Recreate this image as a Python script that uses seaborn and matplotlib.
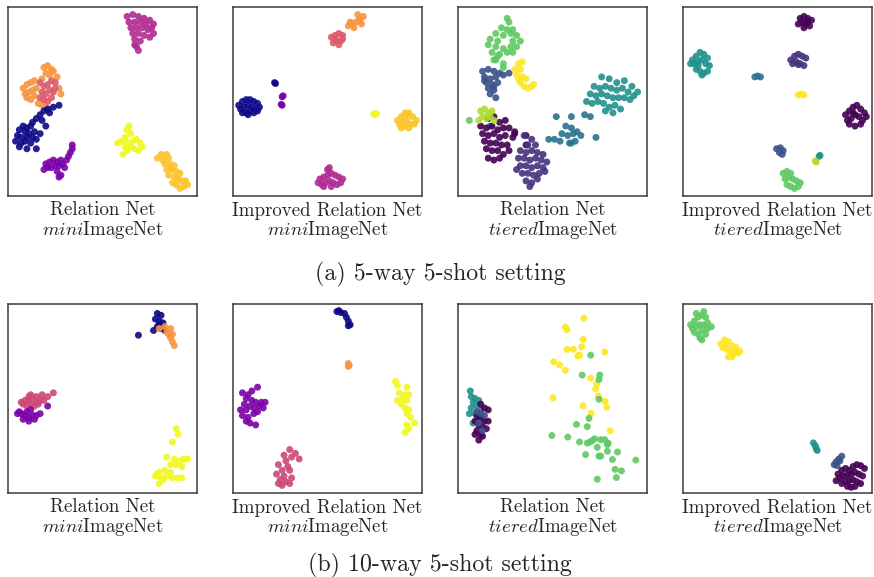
import pandas as pd
import seaborn as sns
import matplotlib.pyplot as plt

# ---- (a) 5-way 5-shot : Relation Net / miniImageNet ----
p1_magenta = [(63,95),(66,96),(69,95),(72,94),(75,93),(77,91),(64,92),(67,92),(70,92),(73,91),(76,89),(65,89),
              (68,89),(71,89),(74,88),(77,86),(66,86),(69,86),(72,85),(75,84),(67,83),(70,82),(68,79),(69,77),(67,80)]
p1_orange = [(8,57),(10,59),(12,60),(14,61),(9,54),(11,55),(13,56),(15,57),(10,52),(12,51),(14,53),(19,68),(21,69),
             (23,67),(20,65),(22,64),(24,66),(18,62),(26,63),(27,57),(28,54),(16,49),(18,48),(20,47)]
p1_salmon = [(17,60),(19,58),(21,59),(23,61),(25,60),(18,55),(20,54),(22,56),(24,55),(19,51),(21,50),(17,52),(23,52),(25,57)]
p1_navy = [(27,48),(24,47),(21,46),(19,45),(22,44),(17,43),(15,41),(18,40),(13,39),(20,37),(8,37),(10,36),(12,37),(6,35),
           (9,34),(11,33),(14,34),(5,32),(7,31),(10,31),(13,31),(4,29),(7,28),(9,29),(12,28),(15,30),(6,26),(10,25),(15,25),(17,33)]
p1_purple = [(20,17),(22,18),(24,19),(26,18),(28,19),(21,15),(23,15),(25,16),(27,16),(29,17),(31,19),(32,21),(33,23),(34,25),
             (34,27),(19,14),(26,13),(28,11),(27,10),(30,15)]
p1_yellow = [(64,37),(63,35),(65,33),(62,31),(60,29),(58,28),(63,28),(66,29),(68,30),(70,28),(71,26),(65,26),(67,25),(63,24),
             (61,22),(69,24),(62,26)]
p1_gold = [(81,22),(84,22),(79,20),(82,19),(85,20),(83,17),(86,17),(84,14),(87,14),(89,13),(91,12),(85,11),(88,10),(90,9),
           (92,8),(94,8),(87,7),(89,6),(93,5),(95,6),(91,4),(86,15),(88,16)]

# ---- Improved Relation Net / miniImageNet ----
p2_orange = [(61,90),(63,91),(65,92),(67,94),(69,95),(66,96),(68,91),(64,89),(62,92),(67,93)]
p2_salmon = [(52,84),(54,85),(56,86),(58,85),(53,81),(55,82),(57,82),(58,83),(54,83),(56,80)]
p2_navy = [(22,60),(22.5,59.5),(3,48),(5,50),(7,51),(9,51),(11,50),(13,49),(4,46),(6,47),(8,48),(10,47),(12,46),(14,47),
           (5,44),(7,44),(9,45),(11,44),(13,45),(8,43)]
p2_purple = [(26,52.5),(26.5,53),(26,48),(25.5,48.5)]
p2_yellow = [(75,43),(76,43.5),(74.5,43.5)]
p2_gold = [(87,40),(89,42),(91,44),(93,44),(95,42),(97,40),(88,38),(90,39),(92,40),(94,38),(96,38),(89,36),(91,37),(93,36),(92,43)]
p2_magenta = [(46,9),(48,10),(50,11),(52,12),(54,11),(56,10),(58,9),(45,7),(47,6),(49,7),(51,8),(53,7),(55,6),(57,7),
              (50,14),(51,15),(48,5),(52,5)]

# ---- Relation Net / tieredImageNet ----
p3_green = [(26,94),(27,92),(23,89),(26,88),(29,88),(20,86),(24,85),(28,86),(31,85),(17,83),(21,82),(29,82),(33,82),(16,80),
            (20,79),(24,78),(28,79),(31,79),(18,76),(22,75),(26,76),(29,76),(19,72),(24,70),(21,74),(20,72),(24,68),(6,40)]
p3_indigo = [(13,66),(16,67),(19,66),(22,65),(14,63),(17,62),(20,63),(24,64),(15,60),(18,59),(21,60),(27,65),(16,57),(19,56),
             (17,54),(20,52),(14,61),(19,58)]
p3_yellow = [(32,70),(34,71),(30,67),(33,67),(31,64),(34,63),(36,62),(33,60),(35,58),(37,57),(39,58),(40,59),(32,62)]
p3_teal = [(76,63),(80,62),(84,60),(88,61),(92,58),(95,55),(72,58),(75,57),(78,58),(81,57),(84,56),(87,57),(90,55),(93,53),
           (70,54),(73,53),(76,54),(79,53),(82,52),(85,52),(88,52),(91,51),(68,50),(71,49),(74,50),(77,49),(80,47),(83,48),
           (86,46),(78,45),(82,44),(60,28),(17,37)]
p3_blue = [(52,42),(60,42),(67,43),(70,42),(57,37),(60,36),(63,34),(55,33),(58,32),(61,33),(65,32),(51,30),(54,29),(48,30),
           (73,31),(59,28),(62,29)]
p3_dark = [(16,41),(19,42),(22,39),(25,40),(12,37),(15,36),(18,37),(21,35),(24,36),(27,36),(13,33),(16,32),(19,33),(22,31),
           (25,32),(29,31),(14,29),(17,28),(20,28),(23,27),(26,27),(15,25),(18,24),(21,24),(24,22),(16,20),(19,19),(22,20),
           (30,34),(27,24),(30,33),(36,32),(36,27)]
p3_lime = [(12,45),(14,46),(16,44),(18,45),(13,42),(15,41),(17,42),(11,40),(19,40)]
p3_violet = [(35,32),(39,30),(37,27),(41,27),(33,24),(36,23),(39,24),(42,23),(45,22),(32,20),(35,20),(38,19),(41,20),(44,19),
             (47,18),(33,16),(36,16),(39,15),(42,16),(45,15),(34,12),(37,12),(40,11),(43,12),(36,8),(39,7),(42,9),(38,5),
             (46,13),(31,14)]

# ---- Improved Relation Net / tieredImageNet ----
p4_dark = [(62,94),(64,95),(66,94),(68,93),(61,91),(63,92),(65,91),(67,90),(64,89),(66,92),
           (86,43),(88,45),(90,47),(92,48),(94,46),(96,44),(97,42),(87,40),(89,41),(91,43),(93,42),(95,40),(88,38),(91,37),
           (94,38),(90,44)]
p4_teal = [(5,72),(7,74),(9,76),(11,75),(13,73),(4,70),(6,70),(8,71),(10,72),(12,70),(14,69),(7,67),(9,66),(11,65),(13,66),
           (10,64),(8,69),(72,21),(72.5,21.5)]
p4_violet = [(57,72),(59,74),(61,75),(63,74),(65,73),(58,70),(60,71),(62,70),(64,69),(61,69.5)]
p4_steel = [(38,63),(39.5,63.5),(41,63)]
p4_yellow = [(61,53.5),(62.5,54),(64,53.5)]
p4_blue = [(49.5,25),(51.5,25.5),(53,24),(51,23),(52.5,22)]
p4_lime = [(70,18.5),(70.5,18)]
p4_green = [(53,12),(55,13),(57,12),(54,9),(56,10),(58,9),(60,8),(62,7),(55,6),(57,5),(59,4),(61,5)]

# ---- (b) 10-way 5-shot : Relation Net / miniImageNet ----
p5_navy = [(79,95),(81,94),(78,92),(80,91),(82,90),(79,88),(81,87),(83,86),(77,86),(80,89),(69,83.5)]
p5_orange = [(83,88),(86,87),(80,87),(85,84),(86,82),(87,80),(88,78),(84,85),(87,84)]
p5_pink = [(12,52),(15,51),(18,52),(21,51),(24,53),(9,49),(11,49),(13,50),(15,48),(17,49),(19,49),(8,47),(10,46),(12,47),
           (14,46),(16,47),(7,48),(11,51)]
p5_purple = [(5,42),(7,42),(9,41),(11,40),(13,41),(15,41),(17,42),(8,39),(11,38),(14,39),(6,43),(10,43),(21,46),(12,44)]
p5_yellow = [(89,34),(90,31),(87,27),(84,19),(88,18),(91,17),(93,18),(95,18),(86,15),(89,15),(92,14),(80,11),(83,12),(86,11),
             (78,9),(81,8),(84,9),(87,8),(90,8),(92,8),(80,5),(82,7),(79,10)]

# ---- Improved Relation Net / miniImageNet ----
p6_navy = [(55,96),(57,95.5),(59,95),(60,93),(61,91),(62,89),(61,88.5),(56,96.5)]
p6_orange = [(61,68.5),(61.5,67.5),(61,67)]
p6_purple = [(5,53),(8,52),(10,54),(13,56),(7,50),(10,49),(6,47),(9,46),(12,48),(15,48),(17,48),(4,44),(7,44),(11,45),
             (14,46),(16,45),(5,41),(8,40),(11,42),(13,43),(7,38),(9,37),(12,36)]
p6_yellow = [(86,59),(87,57),(92,56),(88,53),(91,52),(93,52),(87,49),(90,50),(92,49),(89,47),(91,45),(93,44),(92,42),(94,40),
             (96,37),(92,36),(93,34),(91,32)]
p6_pink = [(30,23),(33,21),(27,20),(31,19),(35,18),(28,17),(24,15),(29,14),(26,12),(30,12),(23,10),(27,9),(31,8),(25,7),
           (28,6),(30,5),(26,4),(24,5)]

# ---- Relation Net / tieredImageNet ----
p7_yellow = [(66.6,92.5),(56.8,87.8),(57.7,86.4),(66.3,81.2),(57.7,76),(61,76),(65.4,77.4),(64.3,72.9),(63.4,72.5),
             (77.6,74.6),(50.6,69.4),(53.8,67.7),(56.8,65),(70.2,60.7),(73.4,57.7),(72.8,55.1),(74.2,51.3),(77.8,48.5),
             (78.7,45.4),(66.1,46.1),(70.5,42.1),(50.3,50.3),(80.5,32.9)]
p7_green = [(70.2,72.9),(65.7,62.4),(75,62.4),(74.6,60),(74.6,49.6),(69.3,39.5),(68.4,35.1),(62.7,36.3),(49.7,30.4),
            (58.1,29.6),(64.3,27),(68.4,26.4),(71,27.7),(72.3,28.7),(75.5,28.2),(77.6,28.2),(79.4,26.4),(73.7,24.2),
            (79,22.1),(84.4,21.7),(67.5,20.3),(74.6,19.5),(75.5,19.5),(81.7,17.7),(94.1,17.4),(83.1,12.5),(86.5,11.7),
            (73.7,7.3),(83.8,8.2),(79,25.6),(69.8,27)]
p7_teal = [(6.5,54),(7,51),(9,50),(11,49),(8,48),(10,46),(7,45),(12,44),(6,42),(9,42),(13,39),(11,40),(8,37)]
p7_dark = [(12,47),(14,45),(16,44),(10,41),(12,40),(14,38),(16,38),(9,38),(11,36),(13,35),(15,34),(10,33),(12,31),(9,31),
           (11,28),(13,30)]
p7_blue = [(10,43),(12,42),(11,37),(13,33),(14,41)]

# ---- Improved Relation Net / tieredImageNet ----
p8_green = [(4,89),(6,91),(8,93),(10,94),(12,93),(13,90),(15,88),(5,87),(7,88),(9,89),(11,89),(13,87),(6,85),(8,84),(10,86),
            (12,84),(9,82),(10,81),(7,95),(11,96)]
p8_yellow = [(20,79),(22,81),(24,80),(26,78),(28,77),(30,75),(21,77),(23,76),(25,75),(27,74),(29,74),(24,72),(26,72),(22,78),(27,76)]
p8_teal = [(69,26.5),(70,25),(70.5,23.5),(71,22.5)]
p8_blue = [(80,15),(81,16.5),(82.5,18),(84,19.5),(81.5,14.5),(83,17)]
p8_dark = [(82,10),(84,12),(86,13),(88,12),(90,14),(92,15),(94,14.5),(96,13),(83,8),(85,9),(87,9.5),(89,10),(91,11),(93,10),
           (95,9),(84,5),(86,6),(88,6.5),(90,7),(92,6),(94,5),(87,3.5),(89,3),(91,3.5),(81,6.5)]

methods = ["Relation Net", "Improved Relation Net"] * 4
datasets = ["$mini$ImageNet", "$mini$ImageNet", "$tiered$ImageNet", "$tiered$ImageNet"] * 2
captions = ["(a) 5-way 5-shot setting", "(b) 10-way 5-shot setting"]

colors = {
    "navy": "#0d0887", "purple": "#7a02a8", "magenta": "#b12a90", "pink": "#cc4778", "salmon": "#dc5b6a",
    "orange": "#f89540", "gold": "#fcc42a", "yellow_p": "#f0f921",
    "dark": "#440154", "violet": "#46327e", "indigo": "#3b528b", "steel": "#2c728e", "blue": "#3b528b",
    "teal": "#21918c", "green": "#5ec962", "lime": "#addc30", "yellow": "#fde725",
}

panels = [
    [("magenta", p1_magenta), ("orange", p1_orange), ("salmon", p1_salmon), ("navy", p1_navy),
     ("purple", p1_purple), ("yellow_p", p1_yellow), ("gold", p1_gold)],
    [("orange", p2_orange), ("salmon", p2_salmon), ("navy", p2_navy), ("purple", p2_purple),
     ("yellow_p", p2_yellow), ("gold", p2_gold), ("magenta", p2_magenta)],
    [("green", p3_green), ("indigo", p3_indigo), ("yellow", p3_yellow), ("teal", p3_teal), ("steel", p3_blue),
     ("dark", p3_dark), ("violet", p3_violet), ("lime", p3_lime)],
    [("dark", p4_dark), ("teal", p4_teal), ("violet", p4_violet), ("steel", p4_steel), ("yellow", p4_yellow),
     ("blue", p4_blue), ("lime", p4_lime), ("green", p4_green)],
    [("navy", p5_navy), ("orange", p5_orange), ("pink", p5_pink), ("purple", p5_purple), ("yellow_p", p5_yellow)],
    [("navy", p6_navy), ("orange", p6_orange), ("purple", p6_purple), ("yellow_p", p6_yellow), ("pink", p6_pink)],
    [("yellow", p7_yellow), ("green", p7_green), ("teal", p7_teal), ("dark", p7_dark), ("blue", p7_blue)],
    [("green", p8_green), ("yellow", p8_yellow), ("teal", p8_teal), ("blue", p8_blue), ("dark", p8_dark)],
]

sns.set_style("white")
plt.rcParams["font.family"] = ["cmr10", "DejaVu Serif"]
plt.rcParams["mathtext.fontset"] = "cm"

W, H = 874, 577
fig = plt.figure(figsize=(W / 100, H / 100), dpi=100)
lefts = [8, 233, 458, 683]
tops = [7, 304]
size = 189
txt = "#252525"

for i, clusters in enumerate(panels):
    row, col = divmod(i, 4)
    ax = fig.add_axes([lefts[col] / W, (H - tops[row] - size) / H, size / W, size / H])
    rows = [(x, y, name) for name, pts in clusters for x, y in pts]
    df = pd.DataFrame(rows, columns=["x", "y", "cls"])
    sns.scatterplot(data=df, x="x", y="y", hue="cls", palette=colors, s=25, linewidth=0,
                    alpha=0.9, legend=False, ax=ax)
    ax.set_xlim(0, 100)
    ax.set_ylim(0, 100)
    ax.set_xticks([])
    ax.set_yticks([])
    ax.set_xlabel("")
    ax.set_ylabel("")
    for sp in ax.spines.values():
        sp.set_visible(True)
        sp.set_color("#3a3a3a")
        sp.set_linewidth(1.1)
    # two-line label under each panel (one text object)
    ax.set_xlabel(methods[i] + "\n" + datasets[i], fontsize=13.6, color=txt, labelpad=4,
                  linespacing=0.95)

fig.text(440 / W, 1 - 280 / H, captions[0], ha="center", va="baseline", fontsize=17.2, color=txt)
fig.text(440 / W, 1 - 571 / H, captions[1], ha="center", va="baseline", fontsize=17.2, color=txt)

fig.savefig("out.png", dpi=100)
